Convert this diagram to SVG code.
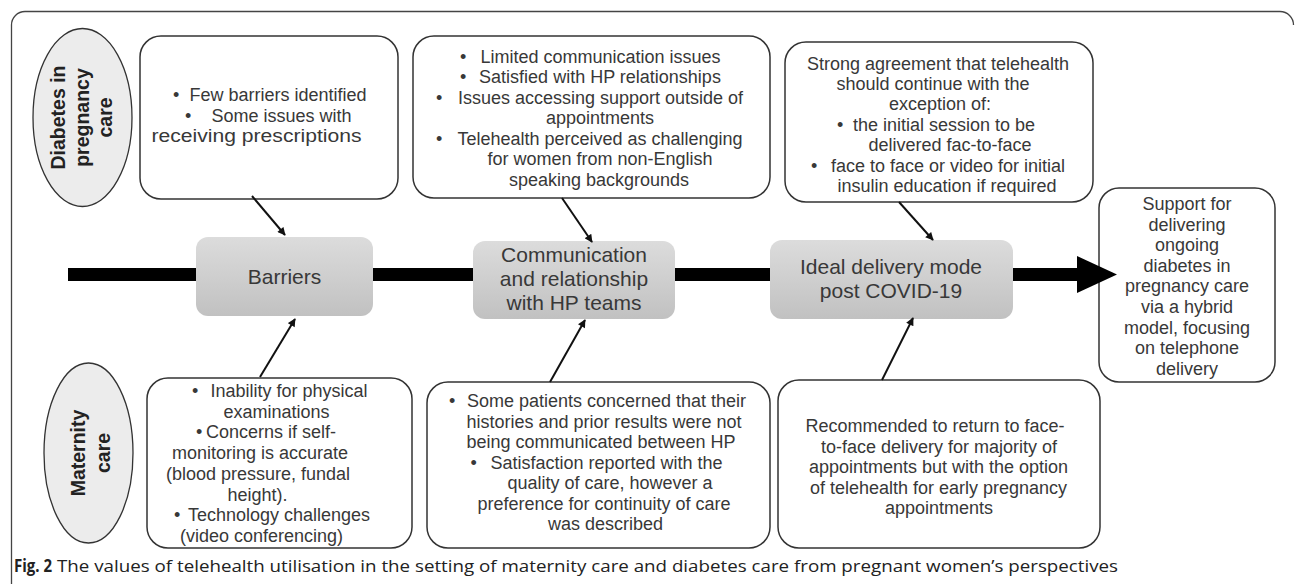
<svg xmlns="http://www.w3.org/2000/svg" width="1295" height="584" viewBox="0 0 1295 584">
<style>
.frame{fill:none;stroke:#444;stroke-width:1.3}
.box{fill:#fff;stroke:#333;stroke-width:1.5}
.ell{fill:#ececec;stroke:#333;stroke-width:1.3}
.gbox{fill:url(#g);stroke:none}
.t{font-family:"Liberation Sans",Arial,sans-serif;font-size:18px;fill:#383838;text-anchor:middle}
.b{font-family:"Liberation Sans",Arial,sans-serif;font-size:18px;fill:#383838}
.gt{font-family:"Liberation Sans",Arial,sans-serif;font-size:21px;fill:#383838;text-anchor:middle}
.et{font-family:"Liberation Sans",Arial,sans-serif;font-size:19.5px;font-weight:bold;fill:#222;text-anchor:middle}
.cap{font-family:"Open Sans","Noto Sans",sans-serif;font-size:17px;fill:#222}
.bar{fill:none;stroke:#000;stroke-width:13}
.arr{fill:none;stroke:#111;stroke-width:2;marker-end:url(#ah)}
</style>
<defs>
<linearGradient id="g" x1="0" y1="0" x2="0" y2="1">
<stop offset="0" stop-color="#dcdcdc"/>
<stop offset="1" stop-color="#c1c1c1"/>
</linearGradient>
<marker id="ah" viewBox="0 0 10 10" refX="9" refY="5" markerWidth="9" markerHeight="8" markerUnits="userSpaceOnUse" orient="auto">
<path d="M0,0 L10,5 L0,10 z" fill="#111"/>
</marker>
</defs>
<rect width="1295" height="584" fill="#fff"/>
<path class="frame" d="M11.5,584 V25 A13.5,13.5 0 0 1 25,11.5 H1280 A13.5,13.5 0 0 1 1293.5,25"/>

<g id="ellipse-diabetes">
<ellipse class="ell" cx="82.5" cy="117.5" rx="49.5" ry="89"/>
<g transform="translate(82.5,117.5) rotate(-90)">
<text class="et" x="0" y="-17.5">Diabetes in</text>
<text class="et" x="0" y="6">pregnancy</text>
<text class="et" x="0" y="29.5">care</text>
</g>
</g>

<g id="ellipse-maternity">
<ellipse class="ell" cx="88.5" cy="453" rx="44.5" ry="90"/>
<g transform="translate(88.5,453) rotate(-90)">
<text class="et" x="0" y="-3.5">Maternity</text>
<text class="et" x="0" y="21">care</text>
</g>
</g>

<g id="top-barriers">
<rect class="box" x="140" y="36" width="258" height="163" rx="21"/>
<text class="b" x="173" y="101">•</text><text class="t" x="278" y="101">Few barriers identified</text>
<text class="b" x="185" y="121.7">•</text><text class="t" x="281.5" y="121.7">Some issues with</text>
<text class="t" x="256.5" y="142.4" textLength="210" lengthAdjust="spacingAndGlyphs">receiving prescriptions</text>
</g>

<g id="top-communication">
<rect class="box" x="413" y="36" width="357" height="162" rx="21"/>
<text class="b" x="460" y="62.5">•</text><text class="t" x="600.5" y="62.5">Limited communication issues</text>
<text class="b" x="460" y="83">•</text><text class="t" x="600" y="83">Satisfied with HP relationships</text>
<text class="b" x="436" y="103.5">•</text><text class="t" x="600.5" y="103.5">Issues accessing support outside of</text>
<text class="t" x="600" y="124">appointments</text>
<text class="b" x="436" y="144.5">•</text><text class="t" x="600" y="144.5">Telehealth perceived as challenging</text>
<text class="t" x="600" y="165">for women from non-English</text>
<text class="t" x="599" y="185.5">speaking backgrounds</text>
</g>

<g id="top-ideal">
<rect class="box" x="785" y="42" width="308" height="160" rx="21"/>
<text class="t" x="938" y="69.5">Strong agreement that telehealth</text>
<text class="t" x="933" y="89.9">should continue with the</text>
<text class="t" x="940" y="110.3">exception of:</text>
<text class="b" x="837" y="130.7">•</text><text class="t" x="944" y="130.7">the initial session to be</text>
<text class="t" x="950" y="151.1">delivered fac-to-face</text>
<text class="b" x="811" y="171.5">•</text><text class="t" x="948" y="171.5">face to face or video for initial</text>
<text class="t" x="947" y="191.9">insulin education if required</text>
</g>

<g id="outcome">
<rect class="box" x="1099" y="188" width="176" height="194" rx="20"/>
<text class="t" x="1187" y="210">Support for</text>
<text class="t" x="1187" y="230.6">delivering</text>
<text class="t" x="1187" y="251.2">ongoing</text>
<text class="t" x="1187" y="271.8">diabetes in</text>
<text class="t" x="1187" y="292.4">pregnancy care</text>
<text class="t" x="1187" y="313">via a hybrid</text>
<text class="t" x="1187" y="333.6">model, focusing</text>
<text class="t" x="1187" y="354.2">on telephone</text>
<text class="t" x="1187" y="374.8">delivery</text>
</g>

<g id="barriers">
<rect class="gbox" x="196" y="237" width="177" height="79" rx="12"/>
<text class="gt" x="284.5" y="284">Barriers</text>
</g>

<g id="communication">
<rect class="gbox" x="473" y="241" width="202" height="78" rx="12"/>
<text class="gt" x="574" y="262">Communication</text>
<text class="gt" x="574" y="285.8">and relationship</text>
<text class="gt" x="574" y="309.6">with HP teams</text>
</g>

<g id="ideal">
<rect class="gbox" x="770" y="240" width="243" height="79" rx="12"/>
<text class="gt" x="891" y="274.3">Ideal delivery mode</text>
<text class="gt" x="891" y="298.3">post COVID-19</text>
</g>

<g id="bottom-barriers">
<rect class="box" x="147" y="378" width="265" height="170" rx="21"/>
<text class="b" x="192" y="397">•</text><text class="t" x="289" y="397">Inability for physical</text>
<text class="t" x="276.5" y="417.7">examinations</text>
<text class="b" x="196" y="438.4">•</text><text class="t" x="271" y="438.4">Concerns if self-</text>
<text class="t" x="260" y="459.1">monitoring is accurate</text>
<text class="t" x="258" y="479.8">(blood pressure, fundal</text>
<text class="t" x="257.5" y="500.5">height).</text>
<text class="b" x="174" y="521.2">•</text><text class="t" x="279" y="521.2">Technology challenges</text>
<text class="t" x="261.5" y="541.9">(video conferencing)</text>
</g>

<g id="bottom-communication">
<rect class="box" x="427" y="382" width="343" height="166" rx="21"/>
<text class="b" x="449" y="407">•</text><text class="t" x="606.5" y="407">Some patients concerned that their</text>
<text class="t" x="604" y="427.5">histories and prior results were not</text>
<text class="t" x="601" y="448">being communicated between HP</text>
<text class="b" x="470.5" y="468.5">•</text><text class="t" x="606.5" y="468.5">Satisfaction reported with the</text>
<text class="t" x="610" y="489">quality of care, however a</text>
<text class="t" x="604" y="509.5">preference for continuity of care</text>
<text class="t" x="605.5" y="530">was described</text>
</g>

<g id="bottom-ideal">
<rect class="box" x="778" y="380" width="322" height="168" rx="21"/>
<text class="t" x="935" y="432">Recommended to return to face-</text>
<text class="t" x="939" y="452.5">to-face delivery for majority of</text>
<text class="t" x="938.5" y="473">appointments but with the option</text>
<text class="t" x="938.5" y="493.5">of telehealth for early pregnancy</text>
<text class="t" x="939" y="514">appointments</text>
</g>

<g id="connectors">
<path class="bar" d="M68,274.5 H196 M373,274.5 H473 M675,274.5 H770 M1013,274.5 H1078"/>
<polygon points="1077,256 1117,274.5 1077,293" fill="#000"/>
<line class="arr" x1="252" y1="196" x2="285" y2="235"/>
<line class="arr" x1="260" y1="377" x2="295" y2="319"/>
<line class="arr" x1="562" y1="198" x2="592" y2="242"/>
<line class="arr" x1="550" y1="382" x2="585" y2="320"/>
<line class="arr" x1="899" y1="202" x2="933" y2="240"/>
<line class="arr" x1="882" y1="380" x2="913" y2="318"/>
</g>

<g id="caption">
<text class="cap" x="14" y="572" font-weight="bold" textLength="38" lengthAdjust="spacingAndGlyphs">Fig. 2</text>
<text class="cap" x="57" y="572" textLength="1061" lengthAdjust="spacingAndGlyphs">The values of telehealth utilisation in the setting of maternity care and diabetes care from pregnant women’s perspectives</text>
</g>
</svg>
